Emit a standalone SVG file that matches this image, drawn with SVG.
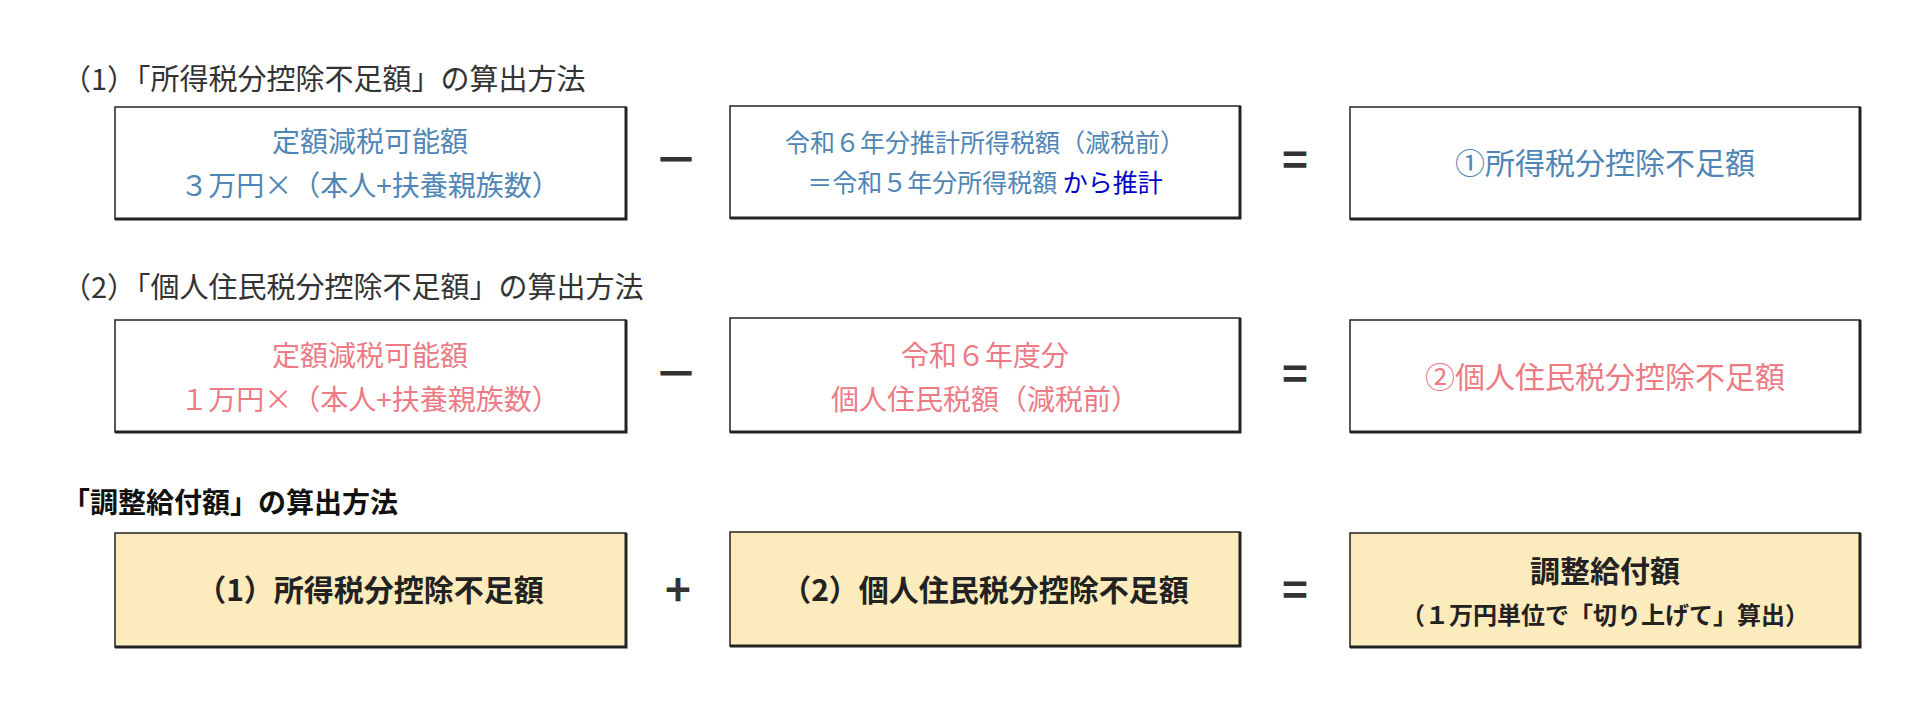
<svg xmlns="http://www.w3.org/2000/svg" width="1906" height="728" viewBox="0 0 1906 728">
<style>
text{font-family:"Noto Sans CJK JP","Noto Sans",sans-serif;text-anchor:middle}
.h{font-size:29px;fill:#333;text-anchor:start}
.hb{font-size:28px;fill:#111;font-weight:bold;text-anchor:start}
.box{fill:#fff;stroke:#222;stroke-width:1.5}
.ybox{fill:#fcebbd;stroke:#222;stroke-width:1.5}
.sh{fill:none;stroke:#222;stroke-width:3}
.b{font-size:28px;fill:#4f86b5}
.p{font-size:28px;fill:#ec7b85}
.k{font-size:30px;fill:#222;font-weight:bold}
.op{font-size:44px;fill:#333;font-weight:bold}
</style>
<text class="h" x="62" y="90">（1）「所得税分控除不足額」の算出方法</text>
<text class="h" x="62" y="298">（2）「個人住民税分控除不足額」の算出方法</text>
<text class="hb" x="62" y="513">「調整給付額」の算出方法</text>
<g id="connectors">
<text class="op" x="676" y="176">－</text>
<text class="op" x="1295" y="176">=</text>
<text class="op" x="676" y="390">－</text>
<text class="op" x="1295" y="390">=</text>
<text class="op" x="678" y="606">+</text>
<text class="op" x="1295" y="606">=</text>
</g>
<g id="n1"><rect class="box" x="115" y="107" width="511" height="112"/><path class="sh" d="M115 219H626V107"/>
<text class="b" x="370" y="152">定額減税可能額</text><text class="b" x="370" y="196">３万円×（本人+扶養親族数）</text></g>
<g id="n2"><rect class="box" x="730" y="106" width="510" height="112"/><path class="sh" d="M730 218H1240V106"/>
<text class="b" x="985" y="152" style="font-size:25px">令和６年分推計所得税額（減税前）</text>
<text x="985" y="192" style="font-size:25px"><tspan fill="#4f86b5">＝令和５年分所得税額 </tspan><tspan fill="#0000cc">から推計</tspan></text></g>
<g id="n3"><rect class="box" x="1350" y="107" width="510" height="112"/><path class="sh" d="M1350 219H1860V107"/>
<text class="b" x="1605" y="174" style="font-size:30px">①所得税分控除不足額</text></g>
<g id="n4"><rect class="box" x="115" y="320" width="511" height="112"/><path class="sh" d="M115 432H626V320"/>
<text class="p" x="370" y="366">定額減税可能額</text><text class="p" x="370" y="410">１万円×（本人+扶養親族数）</text></g>
<g id="n5"><rect class="box" x="730" y="318" width="510" height="114"/><path class="sh" d="M730 432H1240V318"/>
<text class="p" x="985" y="366">令和６年度分</text><text class="p" x="985" y="410">個人住民税額（減税前）</text></g>
<g id="n6"><rect class="box" x="1350" y="320" width="510" height="112"/><path class="sh" d="M1350 432H1860V320"/>
<text class="p" x="1605" y="388" style="font-size:30px">②個人住民税分控除不足額</text></g>
<g id="n7"><rect class="ybox" x="115" y="533" width="511" height="114"/><path class="sh" d="M115 647H626V533"/>
<text class="k" x="370" y="601">（1）所得税分控除不足額</text></g>
<g id="n8"><rect class="ybox" x="730" y="532" width="510" height="114"/><path class="sh" d="M730 646H1240V532"/>
<text class="k" x="985" y="601">（2）個人住民税分控除不足額</text></g>
<g id="n9"><rect class="ybox" x="1350" y="533" width="510" height="114"/><path class="sh" d="M1350 647H1860V533"/>
<text class="k" x="1605" y="582">調整給付額</text><text class="k" x="1605" y="624" style="font-size:24px">（１万円単位で「切り上げて」算出）</text></g>
</svg>
